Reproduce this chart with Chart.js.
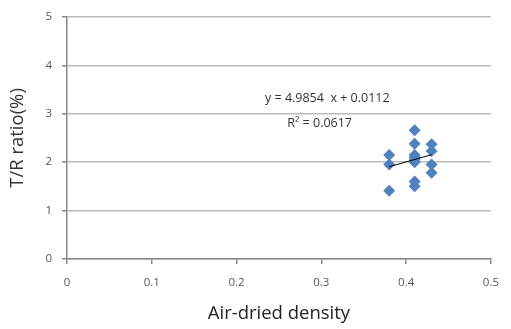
<!DOCTYPE html>
<html>
<head>
<meta charset="utf-8">
<script src="https://cdn.jsdelivr.net/npm/chart.js@4.4.0/dist/chart.umd.min.js"></script>
<style>
  html, body { margin: 0; padding: 0; background: #fff; }
  #wrap { width: 511px; height: 329px; position: relative; }
</style>
</head>
<body>
<div id="wrap"><canvas id="chart"></canvas></div>
<script>
// densidade seca ao ar (x) e razão T/R (y)
const densidade = [0.38, 0.38, 0.38, 0.41, 0.41, 0.41, 0.41, 0.41, 0.41, 0.41, 0.41, 0.43, 0.43, 0.43, 0.43];
const razaoTR   = [2.15, 1.95, 1.41, 2.66, 2.38, 2.15, 2.10, 2.05, 2.00, 1.60, 1.50, 2.37, 2.23, 1.95, 1.78];

// linha de tendência (do gráfico original)
const inclinacao = 4.9854;
const intercepto = 0.0112;
const r2 = 0.0617;
const tendenciaX = [0.38, 0.43];

const xTicks = [0, 0.1, 0.2, 0.3, 0.4, 0.5];
const yTicks = [0, 1, 2, 3, 4, 5];

const fonte = "'Open Sans', 'Noto Sans', sans-serif";

const pontos = densidade.map((x, i) => ({ x: x, y: razaoTR[i] }));
const tendencia = tendenciaX.map(x => ({ x: x, y: inclinacao * x + intercepto }));

// escreve a equação perto da linha
const equacaoPlugin = {
    id: 'equacao',
    afterDatasetsDraw(chart) {
        const c = chart.ctx;
        const xs = chart.scales.x, ys = chart.scales.y;
        c.save();
        c.fillStyle = '#333';
        c.font = '12.5px ' + fonte;
        c.textAlign = 'center';
        c.textBaseline = 'middle';
        c.fillText('y = ' + inclinacao + '  x + ' + intercepto, xs.getPixelForValue(0.307), ys.getPixelForValue(3.31));
        c.fillText('R² = ' + r2, xs.getPixelForValue(0.298), ys.getPixelForValue(2.8));
        c.restore();
    }
};

new Chart(document.getElementById('chart'), {
    type: 'scatter',
    data: {
        datasets: [
            {
                data: pontos,
                pointStyle: 'rectRot',
                pointRadius: 6,
                pointHoverRadius: 6,
                backgroundColor: '#4F81BD',
                borderColor: '#4F81BD',
                borderWidth: 0,
                order: 2
            },
            {
                type: 'line',
                data: tendencia,
                borderColor: '#000',
                borderWidth: 1,
                pointRadius: 0,
                fill: false,
                order: 1
            }
        ]
    },
    options: {
        responsive: true,
        maintainAspectRatio: false,
        animation: false,
        events: [],
        layout: { padding: { top: 15, right: 15, left: 0, bottom: 0 } },
        plugins: {
            legend: { display: false },
            tooltip: { enabled: false }
        },
        scales: {
            x: {
                type: 'linear',
                min: 0, max: 0.5,
                afterBuildTicks: s => { s.ticks = xTicks.map(v => ({ value: v })); },
                afterFit: s => { s.height = 70; },
                border: { color: '#888', width: 1.5 },
                grid: { drawOnChartArea: false, drawTicks: true, tickLength: 5, color: '#888', lineWidth: 1.5 },
                ticks: { color: '#555', font: { family: fonte, size: 11.5 }, padding: 12 },
                title: { display: true, text: 'Air-dried density', color: '#222', font: { family: fonte, size: 18.5 }, padding: { top: 0 } }
            },
            y: {
                min: 0, max: 5,
                afterBuildTicks: s => { s.ticks = yTicks.map(v => ({ value: v })); },
                afterFit: s => { s.width = 67; },
                border: { color: '#888', width: 1.5 },
                grid: { color: '#bbb', lineWidth: 1.5, tickLength: 5, tickColor: '#888' },
                ticks: { color: '#555', font: { family: fonte, size: 11.5 }, padding: 10 },
                title: { display: true, text: 'T/R ratio(%)', color: '#333', font: { family: fonte, size: 18.5 }, padding: { top: 7, bottom: 4 } }
            }
        }
    },
    plugins: [equacaoPlugin]
});
</script>
</body>
</html>
